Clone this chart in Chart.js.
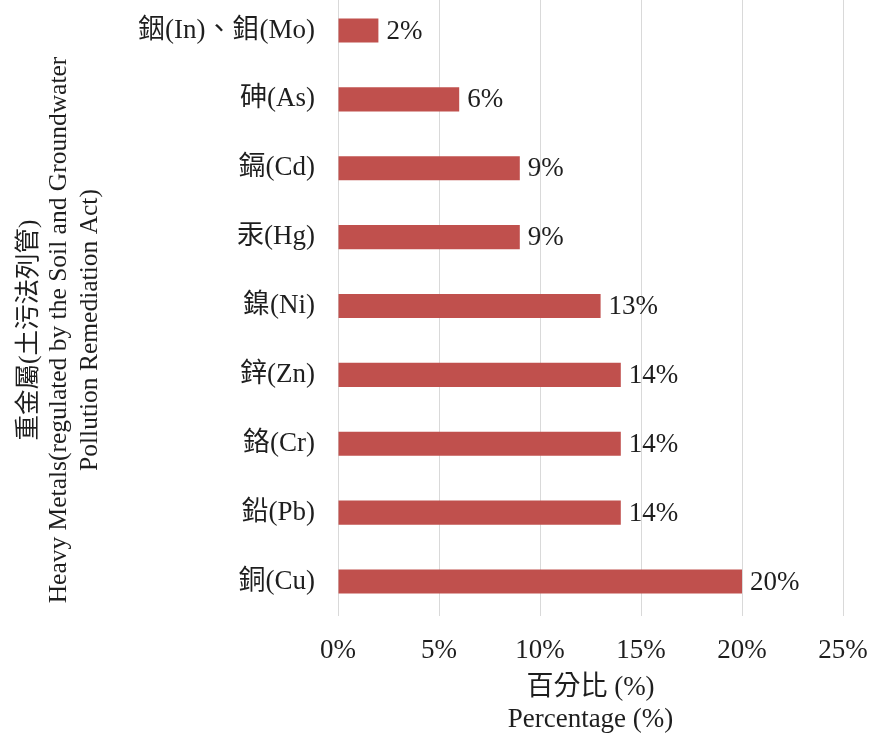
<!DOCTYPE html>
<html>
<head>
<meta charset="utf-8">
<script src="https://cdn.jsdelivr.net/npm/chart.js@4/dist/chart.umd.min.js"></script>
<style>
  html, body { margin: 0; padding: 0; background: #fff; overflow: hidden; }
  #wrap { position: absolute; left: 0; top: -4px; width: 873px; height: 742px; }
</style>
</head>
<body>
<div id="wrap"><canvas id="c" width="873" height="742"></canvas></div>
<script>
// Heavy metals listed under the Soil and Groundwater Pollution Remediation Act
const categories = ['銦(In)、鉬(Mo)', '砷(As)', '鎘(Cd)', '汞(Hg)', '鎳(Ni)', '鋅(Zn)', '鉻(Cr)', '鉛(Pb)', '銅(Cu)'];
const percentages = [2, 6, 9, 9, 13, 14, 14, 14, 20];
const xTicks = [0, 5, 10, 15, 20, 25];
const xTitle = ['百分比 (%)', 'Percentage (%)'];
const yTitle = ['重金屬(土污法列管)', 'Heavy Metals(regulated by the Soil and Groundwater', 'Pollution Remediation Act)'];

const FONT = "'Liberation Serif', 'Times New Roman', 'Noto Sans CJK TC', serif";
const INK = '#1e1e1e';

// value labels at the end of each bar, plus both axis titles
const annotate = {
  id: 'annotate',
  afterDatasetsDraw(chart) {
    const ctx = chart.ctx;
    const meta = chart.getDatasetMeta(0);
    ctx.save();
    ctx.fillStyle = INK;
    ctx.font = '27px ' + FONT;
    ctx.textAlign = 'left';
    ctx.textBaseline = 'middle';
    meta.data.forEach((bar, i) => {
      ctx.fillText(percentages[i] + '%', bar.x + 8, bar.y + 1);
    });
    ctx.restore();
  },
  afterDraw(chart) {
    const ctx = chart.ctx;
    const area = chart.chartArea;
    ctx.save();
    ctx.fillStyle = INK;
    ctx.textAlign = 'center';
    ctx.textBaseline = 'middle';
    ctx.font = '27px ' + FONT;
    const cx = (area.left + area.right) / 2;
    xTitle.forEach((t, i) => ctx.fillText(t, cx, area.bottom + 72 + i * 32));
    ctx.font = '25.5px ' + FONT;
    ctx.translate(29, 334);
    ctx.rotate(-Math.PI / 2);
    yTitle.forEach((t, i) => ctx.fillText(t, 0, i * 30.5));
    ctx.restore();
  }
};

new Chart(document.getElementById('c'), {
  type: 'bar',
  data: {
    labels: categories,
    datasets: [{
      data: percentages,
      backgroundColor: '#C0504D',
      borderWidth: 0,
      categoryPercentage: 1,
      barPercentage: 0.35
    }]
  },
  options: {
    indexAxis: 'y',
    responsive: false,
    animation: false,
    devicePixelRatio: 1,
    layout: { padding: { left: 0, right: 30, top: 0, bottom: 0 } },
    plugins: { legend: { display: false }, tooltip: { enabled: false } },
    scales: {
      x: {
        min: 0,
        max: 25,
        afterBuildTicks(scale) { scale.ticks = xTicks.map(v => ({ value: v })); },
        afterFit(scale) {
          scale.height = 122;
          scale.paddingLeft = 0;
          scale.paddingRight = 0;
        },
        grid: { color: '#d9d9d9', lineWidth: 1, drawTicks: false },
        border: { display: false },
        ticks: {
          padding: 19,
          color: INK,
          font: { family: FONT, size: 27 },
          callback: v => v + '%'
        }
      },
      y: {
        afterFit(scale) {
          scale.width = 338;
          scale.paddingTop = 0;
          scale.paddingBottom = 0;
        },
        grid: { display: false, drawTicks: false },
        border: { display: false },
        ticks: {
          padding: 23,
          color: INK,
          font: { family: FONT, size: 27 }
        }
      }
    }
  },
  plugins: [annotate]
});
</script>
</body>
</html>
